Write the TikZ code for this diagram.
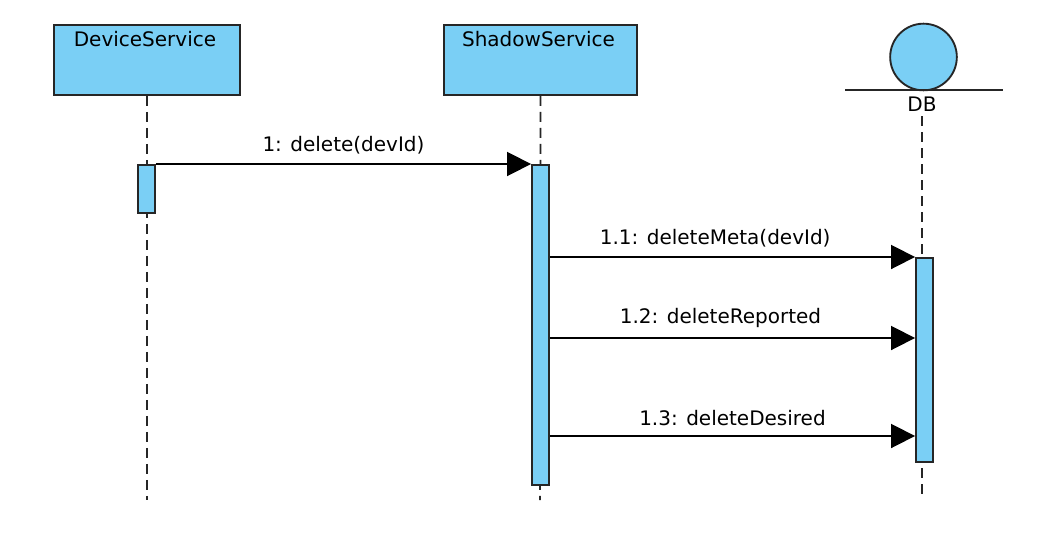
\documentclass[tikz,border=0pt]{standalone}
\usepackage{fontspec}
\setmainfont{DejaVu Sans}
\usepackage{xcolor}
\usetikzlibrary{arrows.meta,positioning}
\definecolor{seqblue}{RGB}{122,207,245}

\begin{document}
\begin{tikzpicture}[
    x=0.75pt, y=-0.75pt,
    font=\fontsize{15pt}{18pt}\selectfont,
    actor/.style={rectangle, draw=black!85, fill=seqblue, line width=1.4pt, minimum width=139.5pt, minimum height=52.5pt, anchor=north, inner sep=0pt},
    actorname/.style={anchor=north, inner sep=0pt},
    activation/.style={rectangle, draw=black!85, fill=seqblue, line width=1.4pt, minimum width=12.75pt, anchor=north, inner sep=0pt},
    lifeline/.style={draw=black!85, line width=1.3pt, dash pattern=on 7.5pt off 4.5pt},
    msg/.style={-{Triangle[length=18pt,width=18pt]}, line width=1.3pt, draw=black},
    msglabel/.style={above=7pt, midway, inner sep=0pt},
]
\useasboundingbox (0,0) rectangle (1056,546);

% Participants
\node [actor] (dev) at (147,24) {};
\node [actorname] (devName) at (145,31) {DeviceService};
\node [actor, minimum width=144.75pt] (shadow) at (540.5,24) {};
\node [actorname] (shadowName) at (538.5,31) {ShadowService};
\node [circle, draw=black!85, fill=seqblue, line width=1.4pt, minimum size=50pt, inner sep=0pt] (db) at (923.5,57) {};
\coordinate (dbLineL) at (845,90);
\coordinate (dbLineR) at (1003,90);
\draw [line width=1.4pt, draw=black!85] (dbLineL) -- (dbLineR);
\node [actorname] (dbName) at (922,97) {DB};

% Lifelines
\coordinate (devEnd) at (147,500);
\coordinate (shadowEnd) at (540,500);
\coordinate (dbEnd) at (922,500);
\draw [lifeline] (dev.south) -- (devEnd);
\draw [lifeline] (shadow.south) -- (shadowEnd);
\draw [lifeline] (dbName.south) ++(0,4) -- (dbEnd);

% Activations
\node [activation, minimum height=36pt] (devAct) at (146.5,164) {};
\node [activation, minimum height=240pt] (shadowAct) at (540.5,164) {};
\node [activation, minimum height=153pt] (dbAct) at (924.5,257) {};

% Messages
\coordinate (row2) at (0,338);
\coordinate (row3) at (0,436);
\draw [msg] (devAct.north east) -- node[msglabel] {1: delete(devId)} (shadowAct.north west);
\draw [msg] (shadowAct.east |- dbAct.north) -- node[msglabel, xshift=-13] {1.1: deleteMeta(devId)} (dbAct.north west);
\draw [msg] (shadowAct.east |- row2) -- node[msglabel, xshift=-9] {1.2: deleteReported} (dbAct.west |- row2);
\draw [msg] (shadowAct.east |- row3) -- node[msglabel] {1.3: deleteDesired} (dbAct.west |- row3);

\end{tikzpicture}
\end{document}
